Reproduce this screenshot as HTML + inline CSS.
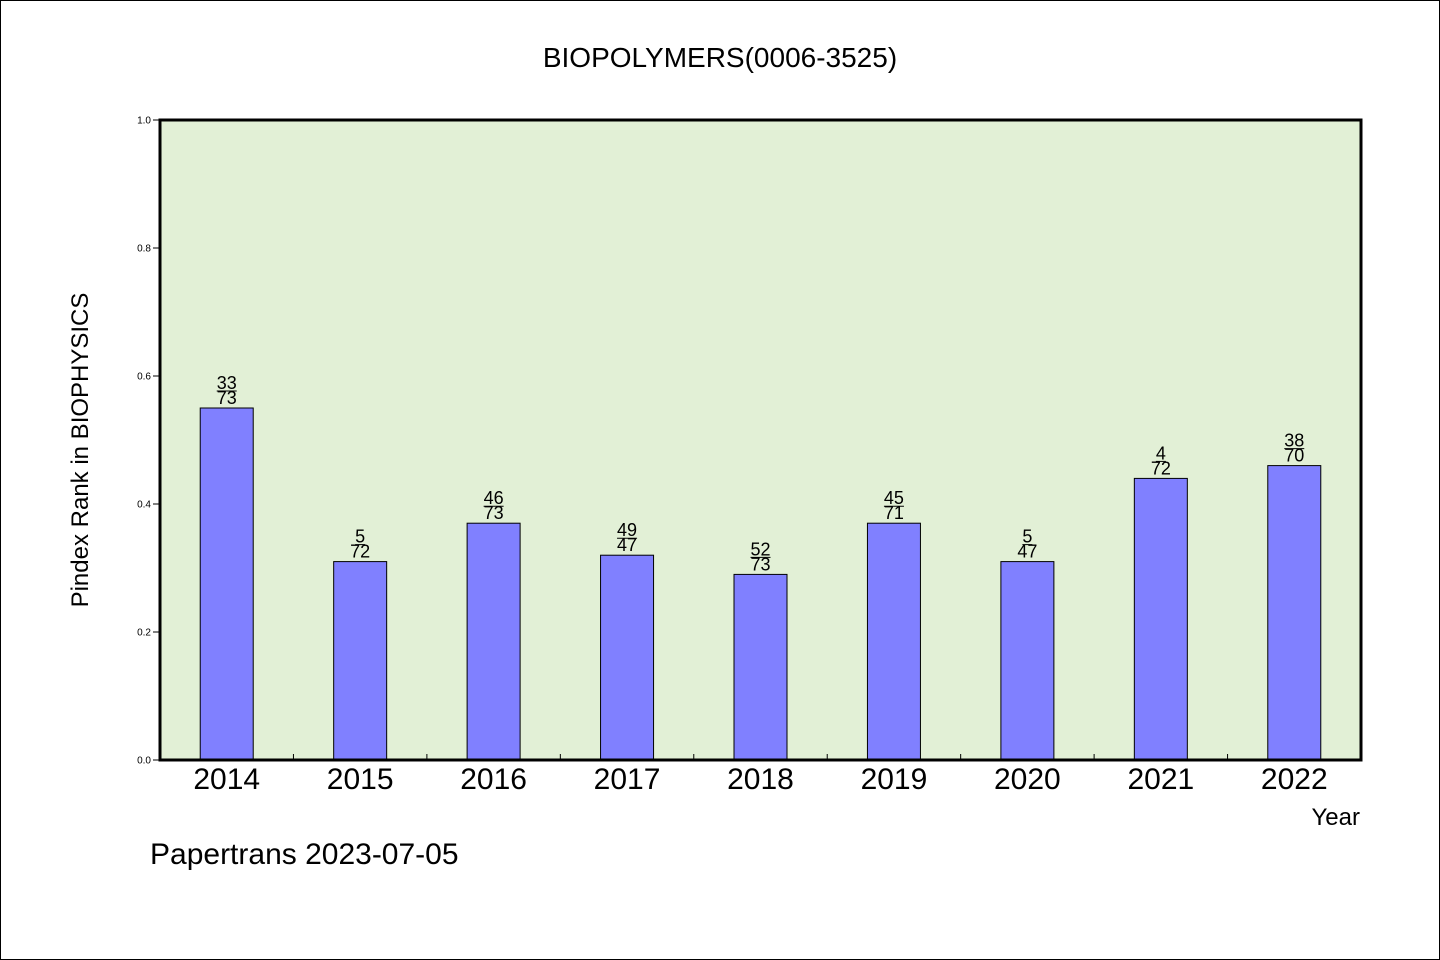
<!DOCTYPE html>
<html><head><meta charset="utf-8"><style>
body{margin:0;background:#fff;}
svg{display:block;font-family:"WenQuanYi Zen Hei","Liberation Sans",sans-serif;}
</style></head><body>
<svg id="chart" width="1440" height="960">
<rect x="0.5" y="0.5" width="1439" height="959" fill="#fff" stroke="#000"/>
<text x="720" y="67" text-anchor="middle" font-size="28">BIOPOLYMERS(0006-3525)</text>
<rect x="160" y="120" width="1201" height="640" fill="#e2f0d6"/>
<g id="yaxis"></g><g id="bars"></g><g id="xaxis"></g>
<rect x="160" y="120" width="1201" height="640" fill="none" stroke="#000" stroke-width="3"/>
<text transform="translate(88,450) rotate(-90)" text-anchor="middle" font-size="24">Pindex Rank in BIOPHYSICS</text>
<text x="1360" y="825" text-anchor="end" font-size="24">Year</text>
<text x="150" y="864" font-size="30">Papertrans 2023-07-05</text>
</svg>
<script>
const categories=["2014","2015","2016","2017","2018","2019","2020","2021","2022"];
const values=[0.55,0.31,0.37,0.32,0.29,0.37,0.31,0.44,0.46];
const numerators=["33","5","46","49","52","45","5","4","38"];
const denominators=["73","72","73","47","73","71","47","72","70"];
const yTicks=[0,0.2,0.4,0.6,0.8,1.0];
const yTickLabels=["0.0","0.2","0.4","0.6","0.8","1.0"];
const NS="http://www.w3.org/2000/svg";
const x0=160,x1=1361,y0=760,y1=120;
const band=(x1-x0)/categories.length;
const yScale=v=>y0-(v)*(y0-y1);
const xCenter=i=>x0+band*(i+0.5);
function mk(tag,attrs,parent,text){const e=document.createElementNS(NS,tag);for(const k in attrs)e.setAttribute(k,attrs[k]);if(text!==undefined)e.textContent=text;parent.appendChild(e);return e;}
const ya=document.getElementById('yaxis'),bg=document.getElementById('bars'),xa=document.getElementById('xaxis');
yTicks.forEach((t,i)=>{const y=yScale(t);
const l=mk('line',{x1:153,x2:160,y1:y,y2:y,stroke:'#000'},ya);


const tx=mk('text',{x:151,y:y+3.5,'text-anchor':'end','font-size':10},ya,yTickLabels[i]);

});
const bw=53;
categories.forEach((c,i)=>{const cx=xCenter(i),top=yScale(values[i]);
const r=mk('rect',{x:cx-bw/2,y:top,width:bw,height:y0-top,fill:'#8080ff',stroke:'#000','stroke-width':1},bg);


const n=mk('text',{x:cx,y:top-19,'text-anchor':'middle','font-size':18},bg,numerators[i]);


const ul=mk('line',{x1:cx-numerators[i].length*5,x2:cx+numerators[i].length*5,y1:top-17,y2:top-17,stroke:'#000'},bg);


const d=mk('text',{x:cx,y:top-4,'text-anchor':'middle','font-size':18},bg,denominators[i]);


const xl=mk('text',{x:cx,y:789,'text-anchor':'middle','font-size':30},xa,c);


if(i>0){const tx=x0+band*i;const tk=mk('line',{x1:tx,x2:tx,y1:754,y2:760,stroke:'#000'},xa);

}
});
</script>
</body></html>
